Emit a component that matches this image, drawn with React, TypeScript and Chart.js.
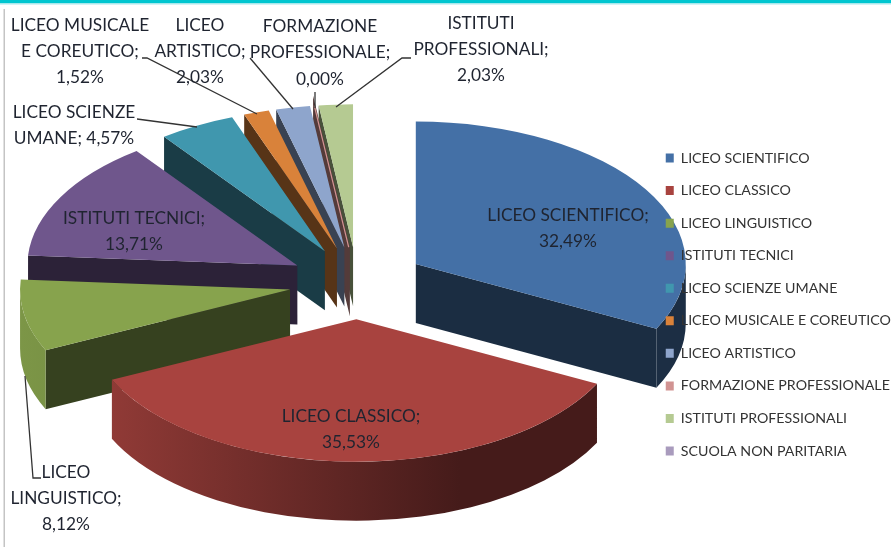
import React, { useEffect, useRef } from "react";
import { Chart, registerables } from "chart.js";

Chart.register(...registerables);

const categories = [
  "LICEO SCIENTIFICO",
  "LICEO CLASSICO",
  "LICEO LINGUISTICO",
  "ISTITUTI TECNICI",
  "LICEO SCIENZE UMANE",
  "LICEO MUSICALE E COREUTICO",
  "LICEO ARTISTICO",
  "FORMAZIONE PROFESSIONALE",
  "ISTITUTI PROFESSIONALI",
  "SCUOLA NON PARITARIA",
];
const shares = [32.49, 35.53, 8.12, 13.71, 4.57, 1.52, 2.03, 0.004, 2.03, 0];
const colors = [
  "#4470a6", "#a8433f", "#87a34d", "#6f568c", "#4097ae",
  "#d9823a", "#8ea5cc", "#d19392", "#b5ca92", "#a99bbd",
];
const labelLines: (string[] | null)[] = [
  ["LICEO SCIENTIFICO;"],
  ["LICEO CLASSICO;"],
  ["LICEO", "LINGUISTICO;"],
  ["ISTITUTI TECNICI;"],
  ["LICEO SCIENZE", "UMANE;"],
  ["LICEO MUSICALE", "E COREUTICO;"],
  ["LICEO", "ARTISTICO;"],
  ["FORMAZIONE", "PROFESSIONALE;"],
  ["ISTITUTI", "PROFESSIONALI;"],
  null,
];

const FONT = "Lato, 'Open Sans', sans-serif";
const SQUASH = 0.528;
const DEPTH = 59;
const CAP = 26.4;
const RADIUS = 270;
const EXPLODE = 68.5;

// Centre x and first-line centre y of every data label block.
const labelAnchors: ([number, number] | null)[] = [
  [568, 215.5], [351, 416], [66, 472], [134, 218], [74, 112.5],
  [80, 25], [200, 25], [320, 26.5], [481, 23], null,
];
const leaderPaths: number[][][] = [
  [[142, 58], [147, 58], [257, 114]],
  [[250, 58], [293, 109]],
  [[315, 92], [315, 108]],
  [[411, 58], [402, 58], [336, 107]],
  [[137, 119], [197, 127]],
  [[25, 376], [33, 478], [41, 478]],
];

const pct = (v: number) => v.toFixed(2).replace(".", ",") + "%";

function shade(hex: string, f: number) {
  const n = parseInt(hex.slice(1), 16);
  const c = [(n >> 16) & 255, (n >> 8) & 255, n & 255].map((v) => Math.round(v * f));
  return `rgb(${c[0]},${c[1]},${c[2]})`;
}

const centreY = (chart: any) => (chart.chartArea.top + chart.chartArea.bottom) / 2;

const piePlugin = {
  id: "pie3d",
  beforeLayout(chart: any) {
    const legend = chart.legend;
    if (legend) legend._layers = () => [{ z: 5, draw: () => legend.draw() }];
  },
  afterLayout(chart: any) {
    const legend = chart.legend;
    if (legend) {
      legend.left = 647.4;
      legend.top = 132.6;
      legend.right = chart.width;
      legend.bottom = chart.height;
    }
  },
  // Explode every slice along its own mid angle.
  afterDatasetsUpdate(chart: any) {
    for (const el of chart.getDatasetMeta(0).data as any[]) {
      const mid = (el.startAngle + el.endAngle) / 2;
      el.x += EXPLODE * Math.cos(mid);
      el.y += EXPLODE * Math.sin(mid);
    }
  },
  beforeDraw(chart: any) {
    const { ctx, width, height } = chart;
    ctx.save();
    ctx.fillStyle = "#ffffff";
    ctx.fillRect(0, 0, width, height);
    ctx.fillStyle = "#00c6d0";
    ctx.fillRect(0, 0, width, 3);
    ctx.fillStyle = "#a8e8ec";
    ctx.fillRect(0, 3, width, 1.5);
    ctx.fillStyle = "#c4c4c4";
    ctx.fillRect(3.5, 9, 1.5, height - 9);
    ctx.restore();
  },
  beforeDatasetsDraw(chart: any) {
    const { ctx, width } = chart;
    const cy = centreY(chart);
    const arcs = chart.getDatasetMeta(0).data as any[];
    const slices = arcs
      .map((el, i) => ({ el, i, mid: (el.startAngle + el.endAngle) / 2 }))
      .filter((s) => s.el.endAngle - s.el.startAngle > 0)
      .sort((a, b) => Math.sin(a.mid) - Math.sin(b.mid));

    ctx.save();
    for (const { el, i } of slices) {
      const R = el.outerRadius;
      const ax = el.x;
      const ay = cy + SQUASH * (el.y - cy);
      const rx = (a: number) => ax + R * Math.cos(a);
      const ry = (a: number) => ay + SQUASH * R * Math.sin(a);
      const dark = shade(colors[i], 0.4);

      const face = (a: number) => {
        ctx.beginPath();
        ctx.moveTo(ax, ay);
        ctx.lineTo(rx(a), ry(a));
        ctx.lineTo(rx(a), ry(a) + DEPTH);
        ctx.lineTo(ax, ay + DEPTH);
        ctx.closePath();
        ctx.fillStyle = dark;
        ctx.fill();
        if (el.options.borderWidth) {
          ctx.strokeStyle = dark;
          ctx.lineWidth = el.options.borderWidth * 2;
          ctx.stroke();
        }
      };

      if (el.startAngle > Math.PI / 2) face(el.startAngle);
      if (el.endAngle < Math.PI / 2) face(el.endAngle);

      const a0 = Math.max(el.startAngle, 0);
      const a1 = Math.min(el.endAngle, Math.PI);
      if (a1 > a0) {
        const g = ctx.createLinearGradient(0, 0, width, 0);
        g.addColorStop(0, shade(colors[i], 0.93));
        g.addColorStop(112 / width, shade(colors[i], 0.86));
        g.addColorStop(460 / width, shade(colors[i], 0.41));
        g.addColorStop(1, shade(colors[i], 0.41));
        ctx.beginPath();
        ctx.ellipse(ax, ay, R, SQUASH * R, 0, a0, a1);
        ctx.lineTo(rx(a1), ry(a1) + DEPTH);
        ctx.ellipse(ax, ay + DEPTH, R, SQUASH * R, 0, a1, a0, true);
        ctx.closePath();
        ctx.fillStyle = g;
        ctx.fill();
      }
    }
    ctx.restore();

    ctx.save();
    ctx.translate(0, cy);
    ctx.scale(1, SQUASH);
    ctx.translate(0, -cy);
  },
  afterDatasetsDraw(chart: any) {
    const { ctx } = chart;
    ctx.restore();

    ctx.save();
    ctx.strokeStyle = "#333333";
    ctx.lineWidth = 1.3;
    for (const path of leaderPaths) {
      ctx.beginPath();
      path.forEach(([x, y], k) => (k ? ctx.lineTo(x, y) : ctx.moveTo(x, y)));
      ctx.stroke();
    }
    ctx.fillStyle = "#1f2430";
    ctx.font = `17.3px ${FONT}`;
    ctx.textAlign = "center";
    ctx.textBaseline = "middle";
    labelLines.forEach((lines, i) => {
      const anchor = labelAnchors[i];
      if (!lines || !anchor) return;
      const rows = [...lines];
      if (i === 4) rows[1] += " " + pct(shares[i]);
      else rows.push(pct(shares[i]));
      rows.forEach((t, k) => ctx.fillText(t, anchor[0], anchor[1] + k * CAP));
    });
    ctx.restore();
  },
};

export default function App() {
  const ref = useRef<HTMLCanvasElement>(null);
  useEffect(() => {
    document.body.style.margin = "0";
    const base = (Chart as any).overrides.doughnut.plugins.legend.labels.generateLabels;
    const chart = new Chart(ref.current as HTMLCanvasElement, {
      type: "pie",
      data: {
        labels: categories,
        datasets: [
          {
            data: shares,
            backgroundColor: colors,
            borderColor: colors,
            borderWidth: shares.map((v) => (v > 0 && v < 0.01 ? 1.2 : 0)),
            radius: RADIUS,
            clip: false,
          } as any,
        ],
      },
      options: {
        responsive: false,
        animation: false,
        layout: { padding: { left: 0, right: 176.2, top: 19, bottom: 0 } },
        plugins: {
          tooltip: { enabled: false },
          legend: {
            position: "chartArea",
            align: "start",
            labels: {
              font: { family: FONT, size: 14.2 },
              color: "#333333",
              boxWidth: 8,
              boxHeight: 9,
              padding: 18.35,
              generateLabels: (c: any) =>
                base(c).map((l: any) => ({ ...l, lineWidth: 0, hidden: false })),
            },
          },
        },
      } as any,
      plugins: [piePlugin as any],
    });
    return () => chart.destroy();
  }, []);
  return (
    <canvas
      ref={ref}
      width={891}
      height={547}
      style={{ display: "block", width: 891, height: 547, filter: "blur(0.5px)" }}
    />
  );
}
